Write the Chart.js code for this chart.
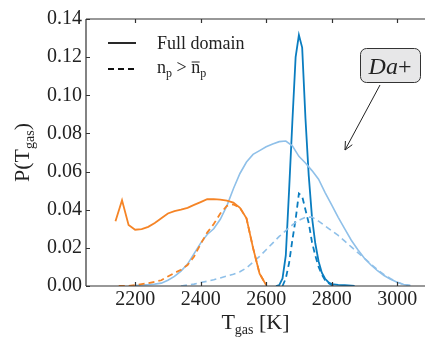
<!DOCTYPE html>
<html>
<head>
<meta charset="utf-8">
<script src="https://cdn.jsdelivr.net/npm/chart.js@4.4.0/dist/chart.umd.min.js"></script>
<style>
  html, body { margin: 0; padding: 0; background: #fff; }
  #wrap { width: 425px; height: 341px; }
</style>
</head>
<body>
<div id="wrap"><canvas id="pdf"></canvas></div>
<script>
// temperatures (K) and probabilities
const tempsOrange = [2140, 2160, 2180, 2200, 2220, 2240, 2260, 2280, 2300, 2320, 2340, 2360,
  2380, 2400, 2420, 2440, 2460, 2480, 2500, 2520, 2540, 2560, 2580, 2600];
const pOrangeFull = [0.034, 0.045, 0.032, 0.0295, 0.0298, 0.031, 0.033, 0.0355, 0.038, 0.0393, 0.040, 0.041,
  0.0425, 0.044, 0.0455, 0.0455, 0.0453, 0.0448, 0.0437, 0.041, 0.0355, 0.020, 0.0065, 0.0005];
const tempsOrangeHigh = [2150, 2180, 2200, 2220, 2240, 2260, 2280, 2300, 2320, 2340, 2360, 2380,
  2400, 2420, 2440, 2460, 2480, 2500, 2520, 2540, 2560, 2580, 2600];
const pOrangeHigh = [0, 0, 0.0005, 0.001, 0.0015, 0.0022, 0.003, 0.005, 0.0068, 0.0085, 0.011, 0.0155,
  0.022, 0.028, 0.0325, 0.038, 0.042, 0.0428, 0.041, 0.0355, 0.020, 0.0065, 0.0005];

const tempsLight = [2200, 2220, 2240, 2260, 2280, 2300, 2320, 2340, 2360, 2380, 2400, 2420, 2440, 2460,
  2480, 2500, 2520, 2540, 2560, 2580, 2600, 2620, 2640, 2660, 2680, 2700, 2720, 2740, 2760, 2780,
  2800, 2820, 2840, 2860, 2880, 2900, 2920, 2940, 2960, 2980, 3000, 3020, 3040];
const pLightFull = [0.0003, 0.0005, 0.0007, 0.001, 0.0015, 0.003, 0.005, 0.0078, 0.0115, 0.017, 0.0225, 0.027, 0.030, 0.035,
  0.042, 0.051, 0.059, 0.065, 0.069, 0.071, 0.073, 0.0745, 0.0757, 0.076, 0.0735, 0.068, 0.0645, 0.0605, 0.056, 0.049,
  0.0425, 0.036, 0.030, 0.024, 0.019, 0.0145, 0.011, 0.008, 0.0055, 0.0035, 0.002, 0.0008, 0.0002];
const tempsLightHigh = [2340, 2360, 2380, 2400, 2420, 2440, 2460, 2480, 2500, 2520, 2540, 2560, 2580, 2600,
  2620, 2640, 2660, 2680, 2700, 2720, 2740, 2760, 2780, 2800, 2820, 2840, 2860, 2880, 2900, 2920,
  2940, 2960, 2980, 3000, 3020, 3040];
const pLightHigh = [0, 0.0005, 0.001, 0.0018, 0.0025, 0.0033, 0.0042, 0.0052, 0.0062, 0.0075, 0.0095, 0.0125, 0.0155, 0.019,
  0.0225, 0.026, 0.029, 0.032, 0.0345, 0.036, 0.0362, 0.034, 0.0315, 0.029, 0.0265, 0.0235, 0.0205, 0.0175, 0.0145, 0.0115,
  0.0085, 0.006, 0.0038, 0.002, 0.0008, 0.0002];

const tempsDark = [2630, 2640, 2650, 2660, 2670, 2680, 2690, 2700, 2710, 2720, 2730, 2740, 2750, 2760,
  2770, 2780, 2790, 2800, 2820, 2840, 2860, 2870];
const pDarkFull = [0, 0.0005, 0.004, 0.016, 0.05, 0.086, 0.12, 0.1316, 0.125, 0.088, 0.058, 0.036, 0.0224, 0.013,
  0.007, 0.0038, 0.002, 0.001, 0.0006, 0.0004, 0.0002, 0];
const tempsDarkHigh = [2650, 2660, 2670, 2680, 2690, 2700, 2710, 2720, 2730, 2740, 2750, 2760, 2770, 2780, 2790, 2800, 2810];
const pDarkHigh = [0, 0.004, 0.012, 0.024, 0.035, 0.0485, 0.047, 0.04, 0.033, 0.023, 0.016, 0.0101, 0.006, 0.003, 0.0015, 0.0005, 0];

const xTicks = [2200, 2400, 2600, 2800, 3000];
const yTicks = [0, 0.02, 0.04, 0.06, 0.08, 0.10, 0.12, 0.14];

const ORANGE = '#f58426';
const LIGHT = '#8fc0e9';
const DARK = '#0a7dc0';
const SERIF = "'Liberation Serif', 'DejaVu Serif', serif";
const DASH = [6, 4];

const pts = (xs, ys) => xs.map((x, i) => ({ x: x, y: ys[i] }));

const line = (label, xs, ys, color, dashed, width) => ({
  label: label,
  data: pts(xs, ys),
  borderColor: color,
  borderWidth: width,
  borderDash: dashed ? DASH : [],
  pointRadius: 0,
  tension: 0,
  fill: false
});

// draws text made of runs (normal / subscript / overline)
function drawRuns(ctx, runs, x, y, align) {
  let total = 0;
  runs.forEach(r => { ctx.font = r.font; r.w = ctx.measureText(r.t).width; total += r.w; });
  let cx = align === 'center' ? x - total / 2 : x;
  ctx.textBaseline = 'alphabetic';
  ctx.textAlign = 'left';
  runs.forEach(r => {
    ctx.font = r.font;
    ctx.fillText(r.t, cx, y + (r.dy || 0));
    if (r.over) {
      ctx.beginPath();
      ctx.lineWidth = 1;
      ctx.moveTo(cx + 0.5, y + r.over);
      ctx.lineTo(cx + r.w - 0.5, y + r.over);
      ctx.stroke();
    }
    cx += r.w;
  });
}

const decor = {
  id: 'decor',
  afterDraw(chart) {
    const ctx = chart.ctx;
    const a = chart.chartArea;
    const xs = chart.scales.x, ys = chart.scales.y;
    ctx.save();
    ctx.strokeStyle = '#333';
    ctx.fillStyle = '#222';
    ctx.lineWidth = 1.2;
    // spines
    ctx.beginPath();
    ctx.moveTo(a.left, a.top); ctx.lineTo(a.right, a.top);
    ctx.moveTo(a.left, a.top); ctx.lineTo(a.left, a.bottom);
    ctx.moveTo(a.left, a.bottom); ctx.lineTo(a.right, a.bottom);
    ctx.stroke();
    // inward ticks
    ctx.beginPath();
    xTicks.forEach(v => {
      const px = Math.round(xs.getPixelForValue(v)) + 0.5;
      ctx.moveTo(px, a.bottom); ctx.lineTo(px, a.bottom - 4);
      ctx.moveTo(px, a.top); ctx.lineTo(px, a.top + 4);
    });
    yTicks.forEach(v => {
      const py = Math.round(ys.getPixelForValue(v)) + 0.5;
      ctx.moveTo(a.left, py); ctx.lineTo(a.left + 4, py);
    });
    ctx.stroke();

    // axis titles
    drawRuns(ctx, [
      { t: 'T', font: '22px ' + SERIF },
      { t: 'gas', font: '14px ' + SERIF, dy: 5 },
      { t: ' [K]', font: '22px ' + SERIF }
    ], (a.left + a.right) / 2, 329, 'center');
    ctx.save();
    ctx.translate(29, (a.top + a.bottom) / 2);
    ctx.rotate(-Math.PI / 2);
    drawRuns(ctx, [
      { t: 'P(T', font: '22px ' + SERIF },
      { t: 'gas', font: '14px ' + SERIF, dy: 5 },
      { t: ')', font: '22px ' + SERIF }
    ], 0, 0, 'center');
    ctx.restore();

    // legend
    ctx.strokeStyle = '#111';
    ctx.lineWidth = 1.8;
    ctx.beginPath();
    ctx.moveTo(108, 43); ctx.lineTo(136, 43);
    ctx.stroke();
    ctx.setLineDash([6, 4]);
    ctx.beginPath();
    ctx.moveTo(108, 69); ctx.lineTo(136, 69);
    ctx.stroke();
    ctx.setLineDash([]);
    ctx.fillStyle = '#222';
    drawRuns(ctx, [{ t: 'Full domain', font: '18px ' + SERIF }], 157, 49, 'left');
    ctx.strokeStyle = '#222';
    drawRuns(ctx, [
      { t: 'n', font: '18px ' + SERIF },
      { t: 'p', font: '12px ' + SERIF, dy: 4 },
      { t: ' > ', font: '18px ' + SERIF },
      { t: 'n', font: '18px ' + SERIF, over: -11 },
      { t: 'p', font: '12px ' + SERIF, dy: 4 }
    ], 157, 73, 'left');

    // annotation box
    ctx.fillStyle = '#e7e7e8';
    ctx.strokeStyle = '#333';
    ctx.lineWidth = 1;
    ctx.beginPath();
    ctx.roundRect(360.5, 48.5, 60, 34, 6);
    ctx.fill();
    ctx.stroke();
    ctx.fillStyle = '#222';
    drawRuns(ctx, [
      { t: 'Da', font: 'italic 24px ' + SERIF },
      { t: '+', font: '24px ' + SERIF }
    ], 390, 74, 'center');
    // arrow
    ctx.strokeStyle = '#222';
    ctx.lineWidth = 1;
    ctx.beginPath();
    ctx.moveTo(380, 85); ctx.lineTo(345, 150);
    ctx.stroke();
    const ang = Math.atan2(150 - 85, 345 - 380);
    ctx.beginPath();
    ctx.moveTo(345 - 9 * Math.cos(ang - 0.45), 150 - 9 * Math.sin(ang - 0.45));
    ctx.lineTo(345, 150);
    ctx.lineTo(345 - 9 * Math.cos(ang + 0.45), 150 - 9 * Math.sin(ang + 0.45));
    ctx.stroke();
    ctx.restore();
  }
};

new Chart(document.getElementById('pdf'), {
  type: 'line',
  data: {
    datasets: [
      line('orange full', tempsOrange, pOrangeFull, ORANGE, false, 1.8),
      line('orange high', tempsOrangeHigh, pOrangeHigh, ORANGE, true, 1.8),
      line('light full', tempsLight, pLightFull, LIGHT, false, 1.6),
      line('light high', tempsLightHigh, pLightHigh, LIGHT, true, 1.6),
      line('dark full', tempsDark, pDarkFull, DARK, false, 1.8),
      line('dark high', tempsDarkHigh, pDarkHigh, DARK, true, 1.8)
    ]
  },
  options: {
    responsive: true,
    maintainAspectRatio: false,
    animation: false,
    layout: { padding: { top: 19, right: 0, left: 0, bottom: 0 } },
    plugins: { legend: { display: false }, tooltip: { enabled: false } },
    scales: {
      x: {
        type: 'linear',
        min: 2050,
        max: 3085,
        grid: { display: false, drawTicks: false },
        border: { display: false },
        afterBuildTicks: s => { s.ticks = xTicks.map(v => ({ value: v })); },
        afterFit: s => { s.height = 55; },
        ticks: { padding: 2, color: '#222', font: { family: SERIF, size: 20 }, maxRotation: 0, callback: v => String(v) }
      },
      y: {
        min: 0,
        max: 0.14,
        grid: { display: false, drawTicks: false },
        border: { display: false },
        afterBuildTicks: s => { s.ticks = yTicks.map(v => ({ value: v })); },
        afterFit: s => { s.width = 86; },
        ticks: { padding: 4, color: '#222', font: { family: SERIF, size: 20 }, callback: v => v.toFixed(2) }
      }
    }
  },
  plugins: [decor]
});
</script>
</body>
</html>
